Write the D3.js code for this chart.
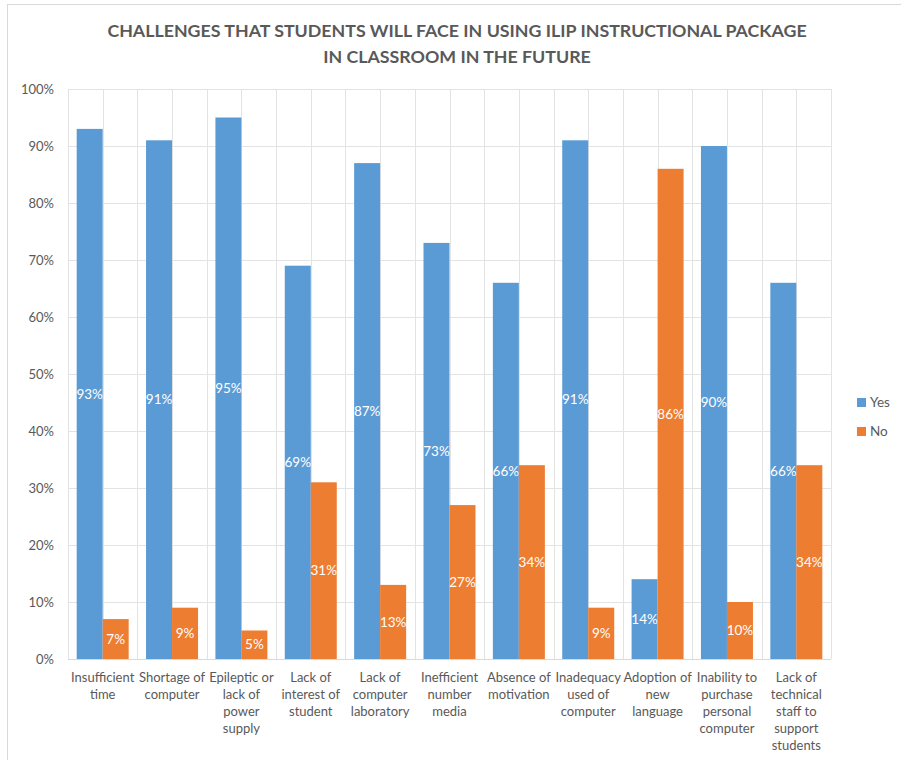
<!DOCTYPE html>
<html><head><meta charset="utf-8">
<script src="https://cdn.jsdelivr.net/npm/d3@7"></script>
<style>body{margin:0;background:#fff}svg{display:block}</style>
</head><body><svg id="c" width="901" height="760"></svg>
<script>
const categories = [
  ["Insufficient","time"],
  ["Shortage of","computer"],
  ["Epileptic or","lack of","power","supply"],
  ["Lack of","interest of","student"],
  ["Lack of","computer","laboratory"],
  ["Inefficient","number","media"],
  ["Absence of","motivation"],
  ["Inadequacy","used of","computer"],
  ["Adoption of","new","language"],
  ["Inability to","purchase","personal","computer"],
  ["Lack of","technical","staff to","support","students"]
];
const yesValues = [93,91,95,69,87,73,66,91,14,90,66];
const noValues  = [7,9,5,31,13,27,34,9,86,10,34];
const seriesNames = ["Yes","No"];
const seriesColors = ["#5B9BD5","#ED7D31"];
const yTicks = [0,10,20,30,40,50,60,70,80,90,100];
const titleLines = ["CHALLENGES THAT STUDENTS WILL FACE IN USING ILIP INSTRUCTIONAL PACKAGE","IN CLASSROOM IN THE FUTURE"];

(function(){
const svg = d3.select("#c");
const font = "Lato, 'Open Sans', sans-serif";
const textCol = "#595959";
const grid = "#e3e3e3";

svg.append("rect").attr("x",7.5).attr("y",4.5).attr("width",1000).attr("height",1000)
  .attr("fill","none").attr("stroke","#d9d9d9");

const pL = 68, pR = 831, pT = 89, pB = 659;
const idx = categories.map((d,i)=>i);
const x = d3.scaleBand().domain(idx).range([pL,pR]).paddingInner(0).paddingOuter(0);
const y = d3.scaleLinear().domain([0,100]).range([pB,pT]);
const inner = d3.scaleBand().domain([0,1]).range([0,x.bandwidth()]).paddingInner(0).paddingOuter(0.334);

svg.append("g").selectAll("line").data(yTicks).join("line")
  .attr("x1",pL).attr("x2",pR).attr("y1",d=>Math.round(y(d))+0.5).attr("y2",d=>Math.round(y(d))+0.5)
  .attr("stroke",grid).attr("stroke-width",1);
const vlines = [];
idx.forEach(i=>{vlines.push(x(i)); vlines.push(x(i)+x.bandwidth()/2);});
vlines.push(pR);
svg.append("g").selectAll("line").data(vlines).join("line")
  .attr("x1",d=>Math.round(d)+0.5).attr("x2",d=>Math.round(d)+0.5).attr("y1",pT).attr("y2",pB)
  .attr("stroke",grid).attr("stroke-width",1);

const yAxis = d3.axisLeft(y).tickValues(yTicks).tickFormat(d=>d+"%").tickSize(0).tickPadding(14);
const ya = svg.append("g").attr("transform",`translate(${pL},0)`).call(yAxis);
ya.select(".domain").remove();
ya.selectAll("text").attr("fill",textCol).style("font-family",font).style("font-size","13px");

const series = [yesValues,noValues];
series.forEach((vals,s)=>{
  const g = svg.append("g");
  g.selectAll("rect").data(vals).join("rect")
    .attr("x",(d,i)=>x(i)+inner(s)).attr("width",inner.bandwidth())
    .attr("y",d=>y(d)).attr("height",d=>y(0)-y(d)).attr("fill",seriesColors[s]);
  g.selectAll("text").data(vals).join("text")
    .attr("x",(d,i)=>x(i)+inner(s)+inner.bandwidth()/2)
    .attr("y",d=>(y(d)+y(0))/2).attr("dy","0.35em").attr("text-anchor","middle")
    .attr("fill","#fff").style("font-family",font).style("font-size","13.5px").text(d=>d+"%");
});

svg.append("line").attr("x1",pL).attr("x2",pR).attr("y1",pB+0.5).attr("y2",pB+0.5)
  .attr("stroke","#d9d9d9");

const xl = svg.append("g");
categories.forEach((lines,i)=>{
  const t = xl.append("text").attr("text-anchor","middle").attr("fill",textCol)
    .style("font-family",font).style("font-size","13px");
  lines.forEach((ln,j)=>{
    t.append("tspan").attr("x",x(i)+x.bandwidth()/2).attr("y",682+j*17).text(ln);
  });
});

svg.append("g").selectAll("text").data(titleLines).join("text")
  .attr("x",457).attr("y",(d,i)=>37+i*26).attr("text-anchor","middle")
  .attr("fill",textCol).style("font-family",font).style("font-weight","bold").style("font-size","17.8px")
  .text(d=>d);

const lg = svg.append("g");
seriesNames.forEach((n,i)=>{
  lg.append("rect").attr("x",857).attr("y",398+i*29).attr("width",9).attr("height",9).attr("fill",seriesColors[i]);
  lg.append("text").attr("x",870).attr("y",402.5+i*29).attr("dy","0.35em").attr("fill",textCol)
    .style("font-family",font).style("font-size","13.5px").text(n);
});
})();
</script></body></html>
